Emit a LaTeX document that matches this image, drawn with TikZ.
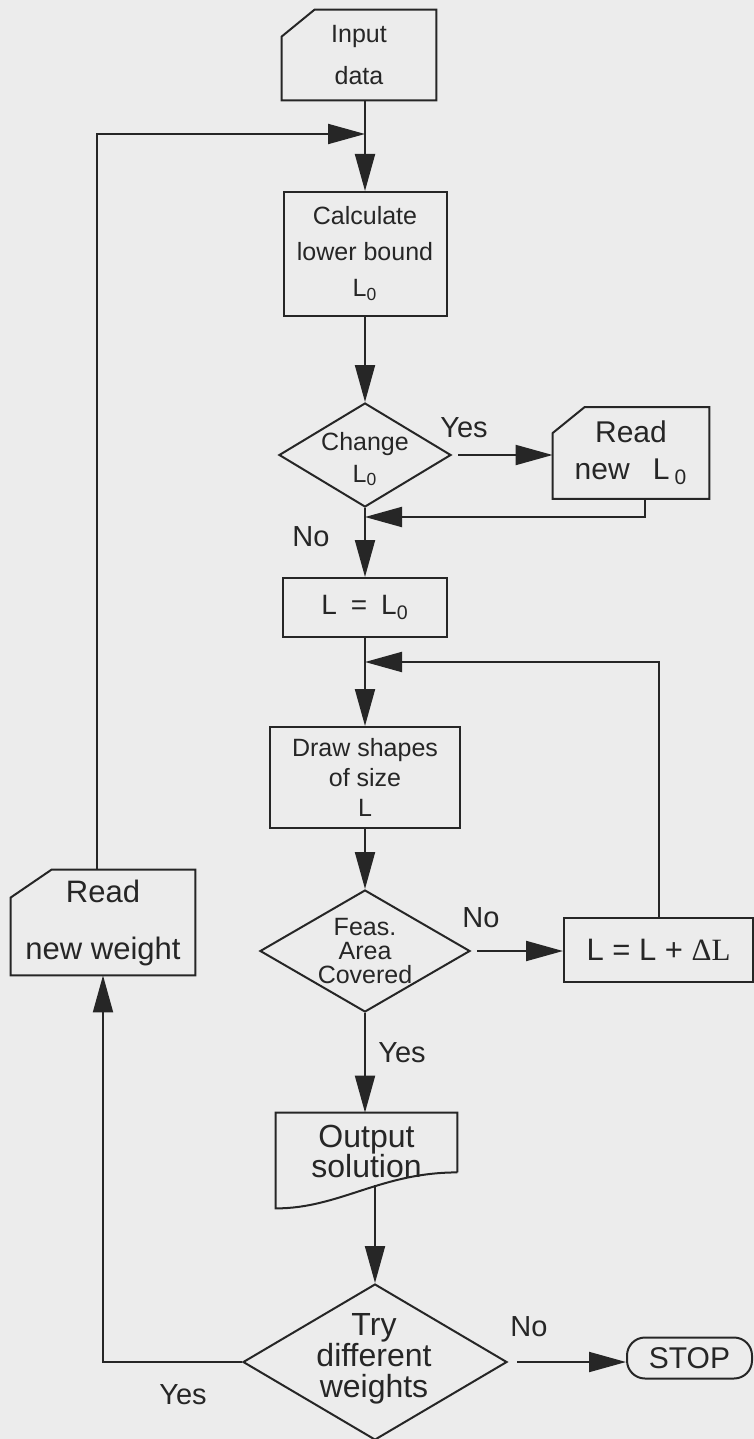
\documentclass[tikz,border=0pt]{standalone}
\usepackage{fontspec}
\setmainfont{Liberation Sans}
\newfontfamily\deltafont{Liberation Serif}
\usetikzlibrary{arrows.meta,shapes.geometric}

\definecolor{paper}{RGB}{236,236,236}
\definecolor{ink}{RGB}{38,38,38}
\newcommand\setfs[2]{\fontsize{#1}{#2}\selectfont\lineskiplimit=-50pt}

\tikzset{
  flow/.style={line width=1pt, draw=ink, -{Triangle[length=18.5pt,width=10pt]}},
  txt/.style={inner sep=0pt, align=center, text=ink},
  box/.style={txt, draw=ink, line width=1pt},
  cardbox/.style={txt},
  decision/.style={diamond, draw=ink, line width=1pt, inner sep=0pt},
  answer/.style={txt, font=\setfs{14.5pt}{16pt}},
}

\begin{document}
\begin{tikzpicture}[x=0.5pt, y=-0.5pt]
    \path[use as bounding box, fill=paper] (0,0) rectangle (754,1439);

    % main column
    \node[cardbox, minimum width=77pt, minimum height=45pt, font=\setfs{12.5pt}{21pt}] (input) at (359,55) {Input\\data};
    \node[box, minimum width=81.5pt, minimum height=62pt, font=\setfs{12.5pt}{18pt}] (calc) at (365,254) {Calculate\\lower bound\\L\textsubscript{0}};
    \node[decision, minimum width=86pt, minimum height=52pt] (change) at (365,455) {};
    \node[txt, font=\setfs{12.5pt}{16pt}] (changetext) at (365,459) {Change\\L\textsubscript{0}};
    \node[cardbox, minimum width=78pt, minimum height=45.5pt, font=\setfs{15pt}{18.5pt}] (readL) at (631,453) {Read\\new\enspace\ L\,\textsubscript{0}};
    \node[box, minimum width=82pt, minimum height=29.5pt, font=\setfs{14pt}{15pt}] (eqL) at (365,607.5) {L\enspace=\enspace L\textsubscript{0}};
    \node[box, minimum width=95pt, minimum height=50.5pt, font=\setfs{12.5pt}{15pt}] (shapes) at (365,777.5) {Draw shapes\\of size\\L};
    \node[decision, minimum width=105pt, minimum height=61pt] (feas) at (365,951) {};
    \node[txt, font=\setfs{12.5pt}{12pt}] (feastext) at (365,951) {Feas.\\Area\\Covered};
    \node[box, minimum width=94.5pt, minimum height=32pt, font=\setfs{15.5pt}{16pt}] (grow) at (658.5,950) {L = L + {\deltafont ΔL}};
    \node[txt, minimum width=90.5pt, minimum height=38.5pt, font=\setfs{16pt}{15pt}] (output) at (366.5,1151.5) {Output\\solution};
    \node[decision, minimum width=132pt, minimum height=78pt] (try) at (375,1362) {};
    \node[txt, font=\setfs{16pt}{15.5pt}] (trytext) at (374,1359) {Try\\different\\weights};
    \node[box, rounded corners=9pt, minimum width=62.5pt, minimum height=20.5pt, font=\setfs{15pt}{16pt}] (stop) at (689.5,1358) {STOP};
    \node[cardbox, minimum width=92pt, minimum height=52.5pt, font=\setfs{15.5pt}{28.5pt}] (readW) at (103,922.5) {Read\\new weight};

    % card and document outlines
    \foreach \n/\cx/\cy in {input/16.5pt/13.5pt, readL/16pt/13pt, readW/20.5pt/14pt}
        \draw[ink, line width=1pt] ([xshift=\cx]\n.north west) -- (\n.north east) |- (\n.south west) -- ([yshift=-\cy]\n.north west) -- cycle;
    \draw[ink, line width=1pt] ([yshift=9pt]output.south east) -- (output.north east) -- (output.north west) -- ([yshift=-9pt]output.south west)
        .. controls ([shift={(32pt,-9pt)}]output.south west) and ([shift={(-38.5pt,9pt)}]output.south east) .. ([yshift=9pt]output.south east);

    % answers
    \node[answer] (yes1) at (464,428) {Yes};
    \node[answer] (no1) at (311,537) {No};
    \node[answer] (no2) at (481,918) {No};
    \node[answer] (yes2) at (402,1053) {Yes};
    \node[answer] (no3) at (529,1327) {No};
    \node[answer] (yes3) at (183,1395) {Yes};

    \coordinate (j0) at (365,134);
    \coordinate (j1) at (365,517);
    \coordinate (j2) at (365,662);
    \coordinate (outbot) at (375,1185);

    % connectors
    \draw[flow] (input.south -| calc.north) -- (calc.north);
    \draw[flow] ([xshift=-3pt]readW.north) |- (j0);
    \draw[flow] (calc.south) -- (change.north);
    \draw[flow, shorten <=3pt] (change.east) -- (change.east -| readL.west);
    \draw[flow] ([xshift=7pt]readL.south) |- (j1);
    \draw[flow] (change.south) -- (eqL.north);
    \draw[flow] (eqL.south) -- (shapes.north);
    \draw[flow] (grow.north) |- (j2);
    \draw[flow] (shapes.south) -- (feas.north);
    \draw[flow, shorten <=3pt] (feas.east) -- (feas.east -| grow.west);
    \draw[flow] (feas.south) -- (feas.south |- output.north);
    \draw[flow] (outbot) -- (try.north);
    \draw[flow, shorten <=4.5pt] (try.east) -- (try.east -| stop.west);
    \draw[flow] (try.west) -| (readW.south);
\end{tikzpicture}
\end{document}
